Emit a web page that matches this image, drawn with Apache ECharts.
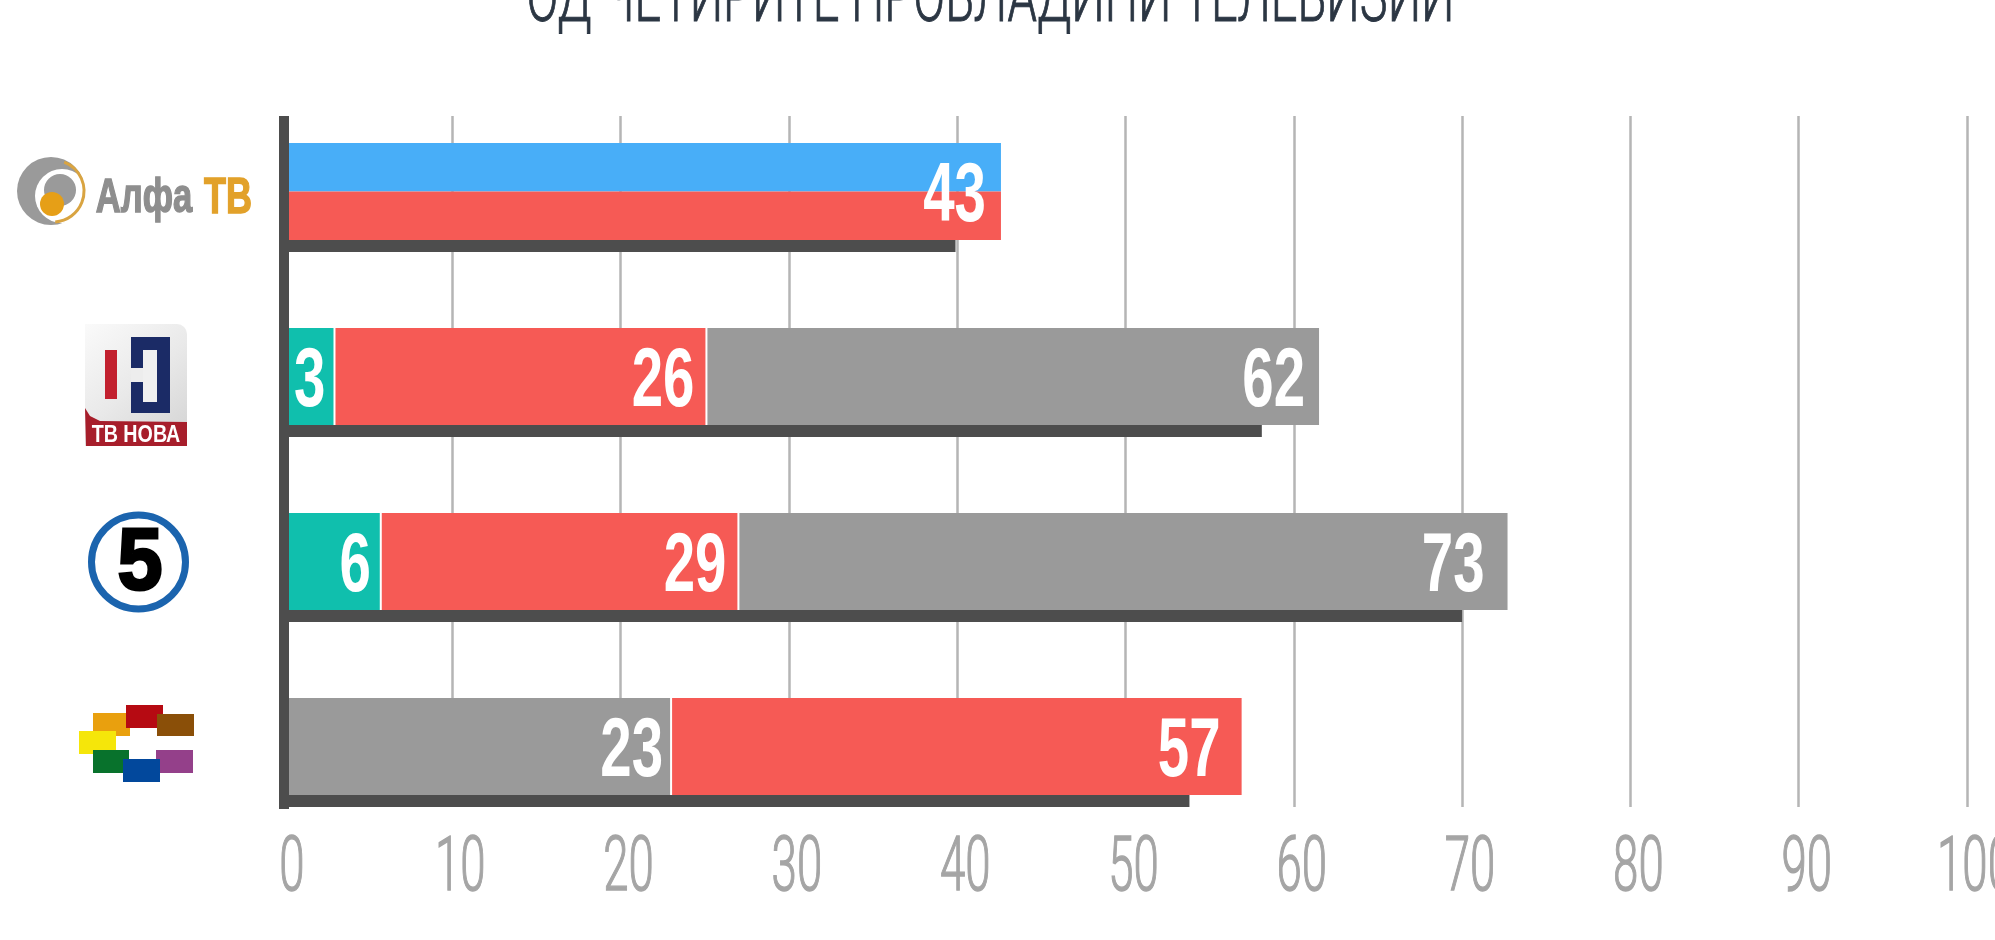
<!DOCTYPE html>
<html><head><meta charset="utf-8">
<style>html,body{margin:0;padding:0;background:#fff;overflow:hidden}#c{width:1995px;height:940px}</style>
<script src="https://cdn.jsdelivr.net/npm/echarts@6/dist/echarts.min.js"></script>
</head><body><div id="c"></div>
<script>
const channels = ['Алфа ТВ', 'ТВ Нова', 'Канал 5', 'Сител'];
const tickValues = [0, 10, 20, 30, 40, 50, 60, 70, 80, 90, 100];
const titleText = 'ОД ЧЕТИРИТЕ ПРОВЛАДИНИ ТЕЛЕВИЗИИ';

// segment widths
const alfaBlue  = [42.6, null, null, null];
const alfaRed   = [42.6, null, null, null];
const grayFirst = [null, null, null, 23.0];
const teal      = [null, 3.0, 5.75, null];
const red       = [null, 22.1, 21.25, 33.9];
const grayLast  = [null, 36.4, 45.7, null];
const darkBase  = [39.9, 58.1, 70.0, 53.8];

// printed labels: [row, printed text, segment end on the axis]
const labelRows  = [0, 1, 1, 1, 2, 2, 2, 3, 3];
const labelTexts = ['43', '3', '26', '62', '6', '29', '73', '23', '57'];
const labelEnds  = [42.6, 3.0, 25.1, 61.5, 5.75, 27.0, 72.7, 23.0, 56.9];
const labelInset = [15, 9, 12, 14, 10, 12, 23, 8, 21];

// white separators between the segments: [row, axis value]
const sepRows = [1, 1, 2, 2, 3];
const sepEnds = [3.0, 25.1, 5.75, 27.0, 23.0];

const C = {blue:'#48AEF8', red:'#F65A55', gray:'#9A9A9A', teal:'#10BFAD', dark:'#4D4D4D',
           grid:'#B5B5B5', tick:'#A5A5A5', title:'#2B3643'};
const L = 284, W = 1683, BAR = 97;

const hiddenX = i => ({type:'value', gridIndex:i, min:0, max:100, interval:10, show:false});
const hiddenY = i => ({type:'category', gridIndex:i, data:channels, inverse:true, show:false});

const chart = echarts.init(document.getElementById('c'), null, {renderer:'canvas'});

function sq(x0,y0,x1,y1,fill){return {type:'rect',shape:{x:x0,y:y0,width:x1-x0,height:y1-y0},style:{fill}};}

const logos = [
  // Alfa TV
  {type:'circle',shape:{cx:51,cy:191,r:34},style:{fill:'#9A9A9A'}},
  {type:'circle',shape:{cx:62,cy:196,r:27},style:{fill:'#FFFFFF'}},
  {type:'arc',shape:{cx:53,cy:191,r:31,startAngle:-1.2,endAngle:1.5},style:{stroke:'#D9A441',lineWidth:3,fill:null}},
  {type:'circle',shape:{cx:60,cy:190,r:16},style:{fill:'#9A9A9A'}},
  {type:'circle',shape:{cx:52,cy:204,r:12},style:{fill:'#E69F17'}},
  {type:'text',x:144,y:199,scaleX:.72,style:{text:'Алфа',font:'bold 48px "Liberation Sans"',fill:'#8E8E8E',stroke:'#8E8E8E',lineWidth:1.5,align:'center',verticalAlign:'middle'}},
  {type:'text',x:228,y:199,scaleX:.72,style:{text:'ТВ',font:'bold 50px "Liberation Sans"',fill:'#E2A12A',stroke:'#E2A12A',lineWidth:1.5,align:'center',verticalAlign:'middle'}},
  // TV Nova
  {type:'rect',shape:{x:85,y:324,width:102,height:122,r:[0,10,0,0]},style:{fill:new echarts.graphic.LinearGradient(0,0,1,1,[{offset:0,color:'#FAFAFA'},{offset:.5,color:'#E9E9E9'},{offset:1,color:'#D2D2D2'}])}},
  {type:'polygon',shape:{points:[[85,408],[90,416],[100,421],[187,422],[187,446],[86,446]]},style:{fill:'#A71E2B'}},
  sq(105,350,117,399,'#C2202E'),
  sq(131,337,170,413,'#1B2B66'),
  sq(143,350,157,402,'#F0F0F0'),
  sq(131,368,143,382,'#EDEDED'),
  {type:'text',x:136,y:435,scaleX:.82,style:{text:'ТВ НОВА',font:'bold 24px "Liberation Sans"',fill:'#FFFFFF',align:'center',verticalAlign:'middle'}},
  // Channel 5
  {type:'ellipse',shape:{cx:138.5,cy:562,rx:47,ry:47},style:{fill:'#FFFFFF',stroke:'#1B64AE',lineWidth:7}},
  {type:'text',x:140,y:565,scaleX:.92,style:{text:'5',font:'900 88px "Liberation Sans"',fill:'#000000',stroke:'#000000',lineWidth:3,align:'center',verticalAlign:'middle'}},
  // Sitel
  sq(93,713,130,736,'#E9A00E'),
  sq(126,705,163,728,'#B60A12'),
  sq(157,714,194,736,'#8A4F08'),
  sq(79,731,116,754,'#F5E60A'),
  sq(93,750,129,773,'#08722C'),
  sq(156,750,193,773,'#94408A'),
  sq(123,759,160,782,'#02489C')
].map(o => Object.assign(o, {silent:true}));

chart.setOption({
  animation:false,
  backgroundColor:'#FFFFFF',
  graphic:{elements:[
    {type:'text',x:990.5,y:3,scaleX:.653,z:10,
     style:{text:titleText,font:'300 72px Roboto',fill:C.title,stroke:C.title,lineWidth:1,align:'center',verticalAlign:'middle'}},
    ...logos
  ]},
  grid:[
    {left:L,width:W,top:116,height:693},       // vertical axis line
    {left:L,width:W,top:116,height:691},       // gridlines
    {left:L,width:W,top:99,height:740},        // main bars
    {left:L,width:W,top:153.5,height:740}      // dark base bars
  ],
  xAxis:[
    hiddenX(0),
    {type:'value',gridIndex:1,min:0,max:100,interval:10,
     axisLine:{show:false},axisTick:{show:false},axisLabel:{show:false},
     splitLine:{show:true,lineStyle:{color:C.grid,width:2.5}}},
    hiddenX(2),
    hiddenX(3)
  ],
  yAxis:[
    {type:'category',gridIndex:0,data:channels,inverse:true,offset:1,z:6,
     axisLine:{show:true,lineStyle:{color:C.dark,width:10,cap:'butt'}},axisTick:{show:false},axisLabel:{show:false},splitLine:{show:false}},
    hiddenY(1),
    hiddenY(2),
    hiddenY(3),
    hiddenY(2)
  ],
  series:[
    {type:'bar',name:'base',xAxisIndex:3,yAxisIndex:3,barWidth:12,data:darkBase,itemStyle:{color:C.dark},z:2},
    {type:'bar',name:'grayFirst',xAxisIndex:2,yAxisIndex:2,stack:'m',barWidth:BAR,data:grayFirst,itemStyle:{color:C.gray},z:3},
    {type:'bar',name:'teal',xAxisIndex:2,yAxisIndex:2,stack:'m',barWidth:BAR,data:teal,itemStyle:{color:C.teal},z:3},
    {type:'bar',name:'red',xAxisIndex:2,yAxisIndex:2,stack:'m',barWidth:BAR,data:red,itemStyle:{color:C.red},z:3},
    {type:'bar',name:'grayLast',xAxisIndex:2,yAxisIndex:2,stack:'m',barWidth:BAR,data:grayLast,itemStyle:{color:C.gray},z:3},
    {type:'bar',name:'alfaBlue',xAxisIndex:2,yAxisIndex:4,barWidth:BAR/2,barGap:0,data:alfaBlue,itemStyle:{color:C.blue},z:3},
    {type:'bar',name:'alfaRed',xAxisIndex:2,yAxisIndex:4,barWidth:BAR/2,barGap:0,data:alfaRed,itemStyle:{color:C.red},z:3},
    {type:'custom',name:'separators',xAxisIndex:2,yAxisIndex:2,z:4,silent:true,
     data:sepEnds.map((v,i)=>[v,sepRows[i]]),
     renderItem(p,api){
       const pt=api.coord([api.value(0),api.value(1)]);
       return {type:'rect',shape:{x:pt[0]-1,y:pt[1]-BAR/2,width:2,height:BAR},style:{fill:'#FFFFFF'}};
     }},
    {type:'custom',name:'labels',xAxisIndex:2,yAxisIndex:2,z:7,silent:true,
     data:labelEnds.map((v,i)=>[v,labelRows[i]]),
     renderItem(p,api){
       const pt=api.coord([api.value(0),api.value(1)]);
       return {type:'text',x:pt[0]-labelInset[p.dataIndex],y:pt[1]+7,scaleX:.68,
         style:{text:labelTexts[p.dataIndex],font:'bold 83px "Liberation Sans"',fill:'#FFFFFF',align:'right',verticalAlign:'middle'}};
     }},
    {type:'custom',name:'ticks',xAxisIndex:1,yAxisIndex:1,z:7,silent:true,clip:false,
     data:tickValues.map(v=>[v,0]),
     renderItem(p,api){
       const pt=api.coord([api.value(0),0]);
       return {type:'text',x:pt[0]+8,y:p.coordSys.y+p.coordSys.height+64,scaleX:.6,
         style:{text:String(tickValues[p.dataIndex]),font:'300 76px Roboto',fill:C.tick,stroke:C.tick,lineWidth:1.4,align:'center',verticalAlign:'middle'}};
     }}
  ]
});
</script></body></html>
